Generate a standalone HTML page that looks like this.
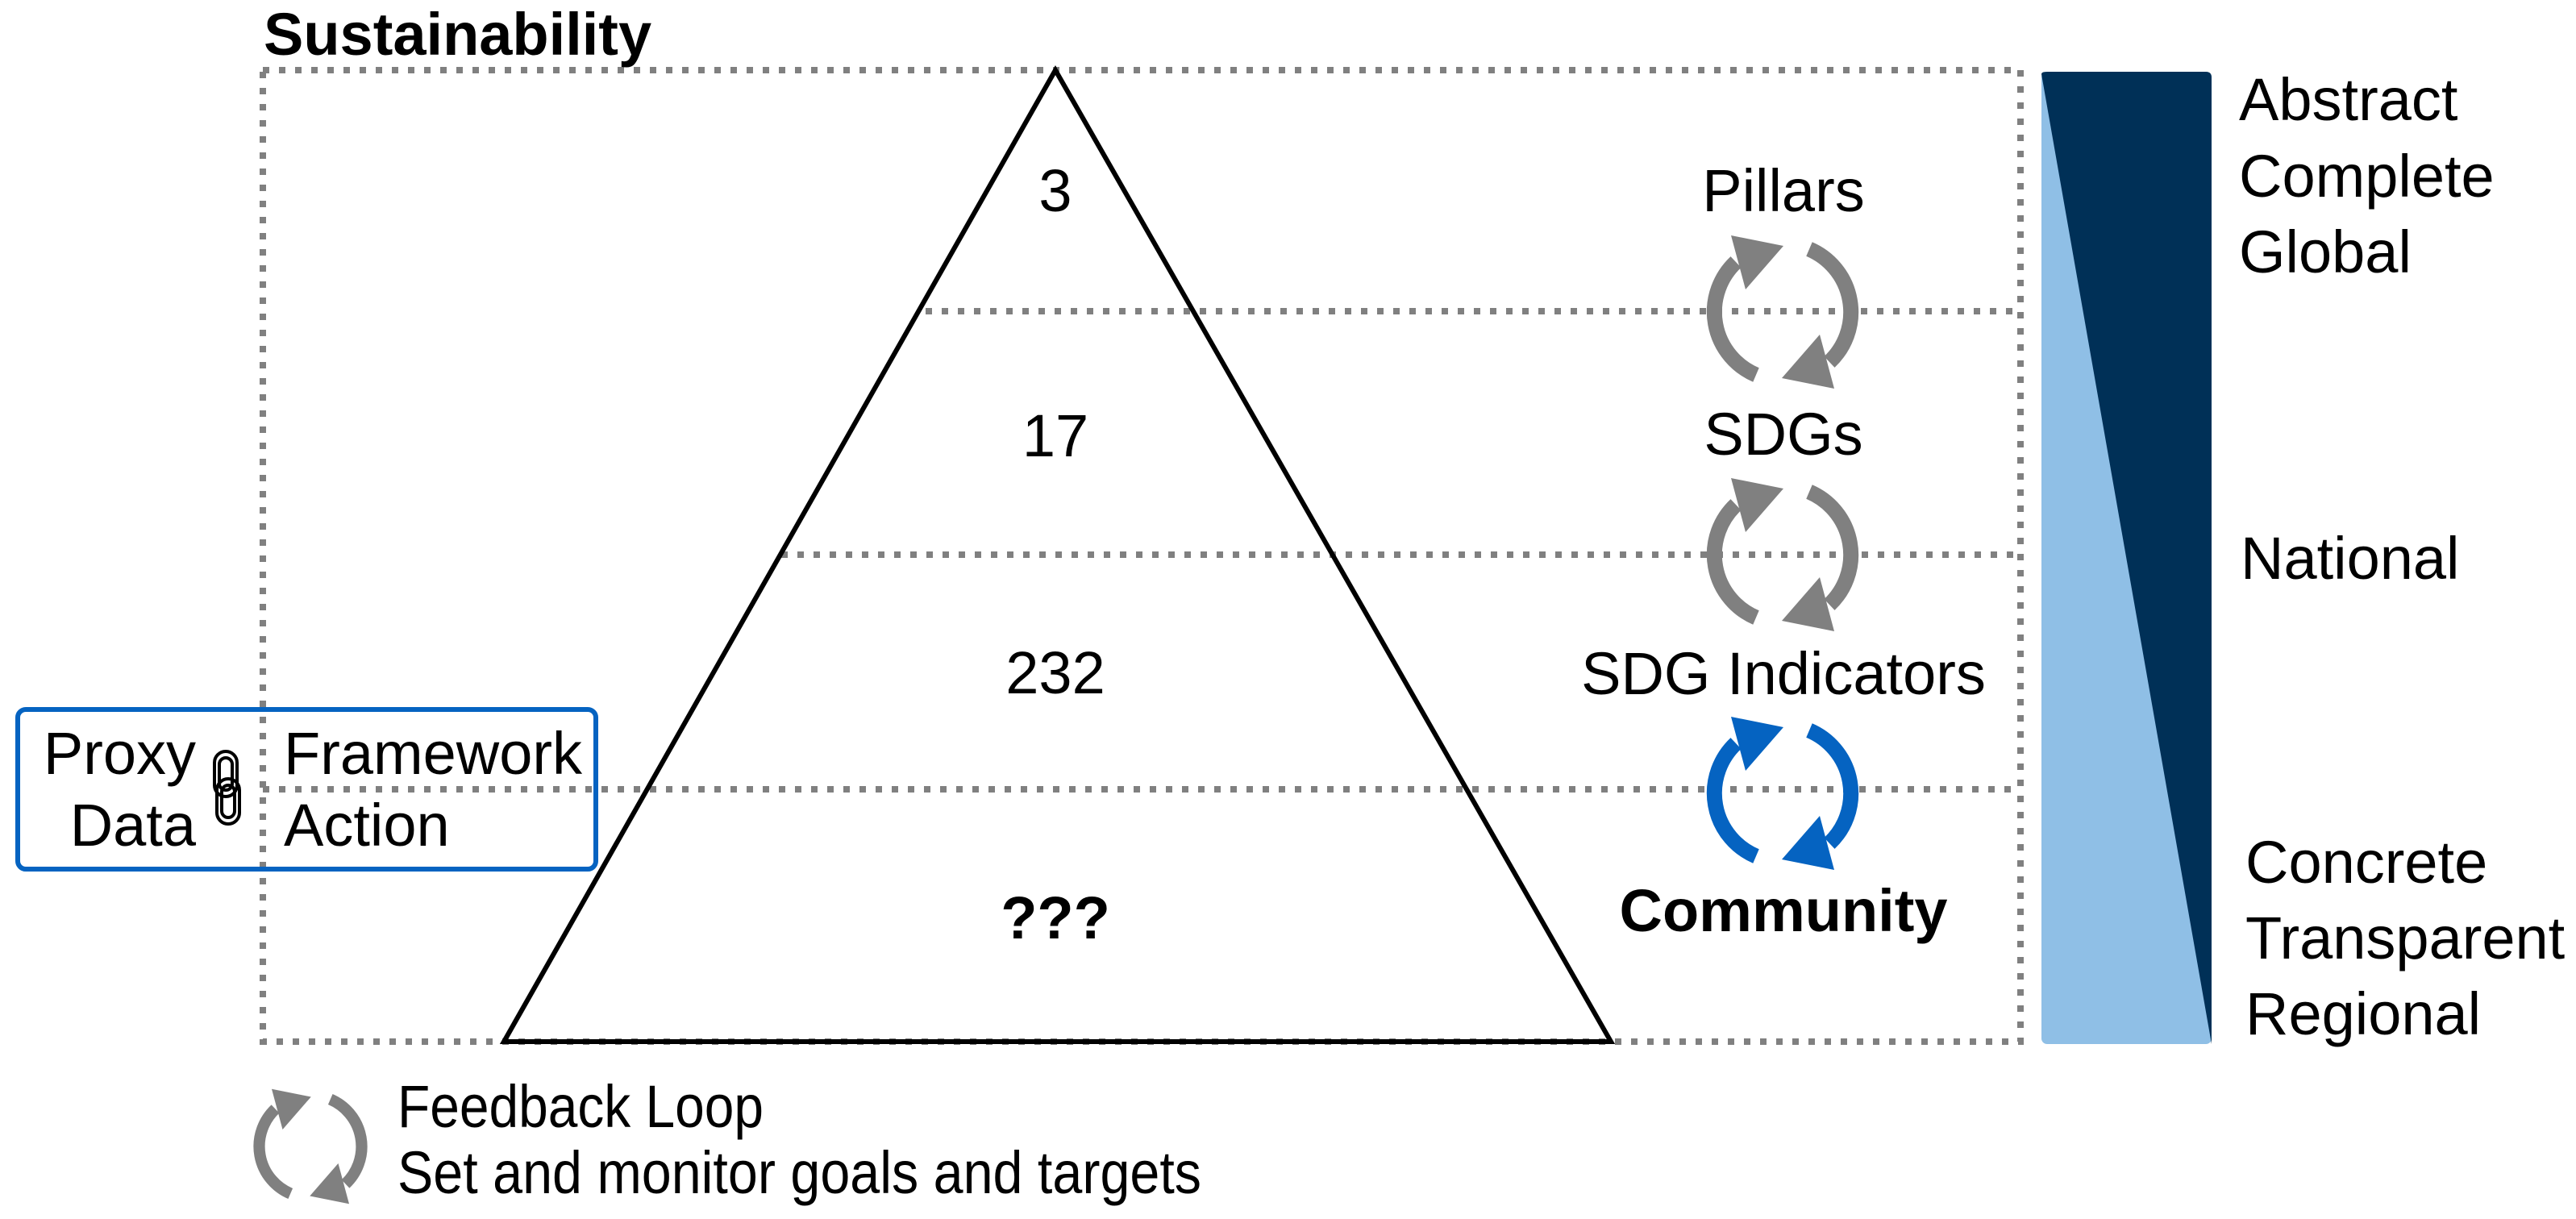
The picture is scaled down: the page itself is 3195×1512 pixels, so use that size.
<!DOCTYPE html>
<html><head><meta charset="utf-8"><style>
html,body{margin:0;padding:0;background:#fff}
svg{display:block}
text{font-family:"Liberation Sans",Arial,sans-serif;font-size:74px;fill:#000}
</style></head><body>
<svg width="3195" height="1512" viewBox="0 0 3195 1512" xmlns="http://www.w3.org/2000/svg">
<defs>
<g id="cyc">
<path d="M -33 78 A 85 85 0 0 1 -58 -62" fill="none" stroke-width="19"/>
<polygon points="-64,-95 1,-82 -46,-28" stroke="none"/>
<path d="M 33 -78 A 85 85 0 0 1 58 62" fill="none" stroke-width="19"/>
<polygon points="64,95 -1,82 46,28" stroke="none"/>
</g>
</defs>
<g stroke="#808080" stroke-width="8" stroke-dasharray="8 12" fill="none">
<rect x="326" y="87" width="2180" height="1205"/>
<line x1="1148" y1="386" x2="2506" y2="386"/>
<line x1="969" y1="688" x2="2506" y2="688"/>
<line x1="326" y1="979" x2="2506" y2="979"/>
</g>
<polygon points="1309,87 625,1292 1998,1292" fill="none" stroke="#000" stroke-width="6" stroke-linejoin="miter"/>
<text x="327" y="68" font-weight="bold" font-size="76">Sustainability</text>
<g text-anchor="middle">
<text x="1309" y="262">3</text>
<text x="1309" y="566">17</text>
<text x="1309" y="860">232</text>
<text x="1309" y="1164" font-weight="bold">???</text>
<text x="2212" y="262">Pillars</text>
<text x="2212" y="564">SDGs</text>
<text x="2212" y="861">SDG Indicators</text>
<text x="2212" y="1155" font-weight="bold">Community</text>
</g>
<g fill="#808080" stroke="#808080">
<use href="#cyc" transform="translate(2211,387)"/>
<use href="#cyc" transform="translate(2211,688)"/>
<use href="#cyc" transform="translate(385,1422) scale(0.75)"/>
</g>
<g fill="#0563C1" stroke="#0563C1">
<use href="#cyc" transform="translate(2211,984)"/>
</g>
<rect x="2532" y="89" width="211" height="1206" rx="7" fill="#8FBFE6"/>
<path d="M2532 92 Q2532 89 2539 89 L2736 89 Q2743 89 2743 96 L2743 1295 Z" fill="#003057"/>
<text x="2777" y="149">Abstract</text>
<text x="2777" y="244">Complete</text>
<text x="2777" y="338">Global</text>
<text x="2779" y="718">National</text>
<text x="2785" y="1095">Concrete</text>
<text x="2785" y="1189">Transparent</text>
<text x="2785" y="1283">Regional</text>
<rect x="22" y="880" width="717" height="198" rx="10" fill="none" stroke="#0563C1" stroke-width="6"/>
<text x="243" y="960" text-anchor="end">Proxy</text>
<text x="243" y="1049" text-anchor="end">Data</text>
<text x="352" y="960">Framework</text>
<text x="352" y="1049">Action</text>
<g fill="none" stroke="#000" stroke-width="4">
<rect x="266" y="932" width="28" height="56" rx="14"/>
<rect x="272" y="940" width="16" height="40" rx="8"/>
<rect x="269" y="966" width="28" height="56" rx="14"/>
<rect x="275" y="974" width="16" height="40" rx="8"/>
</g>
<text x="493" y="1398" font-size="66" textLength="454" lengthAdjust="spacingAndGlyphs">Feedback Loop</text>
<text x="493" y="1480" font-size="66" textLength="997" lengthAdjust="spacingAndGlyphs">Set and monitor goals and targets</text>
</svg>
</body></html>
